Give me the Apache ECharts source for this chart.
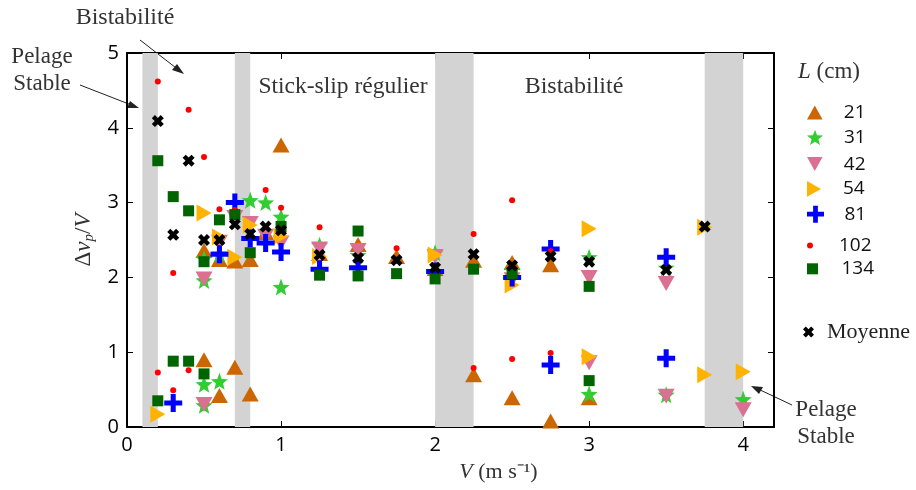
<!DOCTYPE html>
<html><head><meta charset="utf-8">
<script src="https://cdn.jsdelivr.net/npm/echarts@6/dist/echarts.min.js"></script>
<style>html,body{margin:0;padding:0;background:#fff}#c{width:916px;height:490px}</style>
</head><body><div id="c"></div>
<script>
// ---- data ----
const seriesNames = ['21','31','42','54','81','102','134'];
const s21 = [[0.5,2.36],[0.5,0.9],[0.6,2.24],[0.6,0.42],[0.7,2.22],[0.7,0.8],[0.8,2.24],[0.8,0.44],[0.9,2.6],[1.0,3.77],[1.25,2.32],[1.5,2.44],[1.75,2.28],[2.0,2.12],[2.25,2.23],[2.25,0.7],[2.5,2.2],[2.5,0.39],[2.75,2.17],[2.75,0.08],[3.0,0.39]];
const s31 = [[0.5,2.25],[0.5,1.96],[0.5,0.57],[0.5,0.29],[0.6,2.32],[0.6,0.61],[0.8,3.03],[0.9,3.0],[1.0,2.81],[1.0,1.87],[1.25,2.43],[1.5,2.3],[2.0,2.33],[2.5,2.1],[3.0,2.27],[3.0,0.44],[3.5,2.13],[3.5,0.43],[4.0,0.37]];
const s42 = [[0.5,1.98],[0.5,0.3],[0.6,2.47],[0.7,2.8],[0.8,2.72],[0.9,2.55],[1.0,2.46],[1.25,2.38],[1.5,2.36],[2.0,2.28],[2.5,1.97],[3.0,2.0],[3.0,0.86],[3.5,1.92],[3.5,0.41],[4.0,0.23]];
const s54 = [[0.2,0.17],[0.5,2.86],[0.6,2.54],[0.7,2.27],[0.8,2.7],[1.0,2.55],[1.25,2.28],[2.0,2.3],[2.5,1.9],[3.0,2.65],[3.0,0.94],[3.75,2.67],[3.75,0.7],[4.0,0.74]];
const s81 = [[0.3,0.32],[0.6,2.31],[0.7,3.0],[0.8,2.52],[0.9,2.46],[1.0,2.34],[1.25,2.11],[1.5,2.13],[2.0,2.08],[2.5,2.0],[2.75,2.38],[2.75,0.83],[3.5,2.27],[3.5,0.92]];
const s102 = [[0.2,4.62],[0.2,0.73],[0.3,2.06],[0.3,0.49],[0.4,4.24],[0.4,0.76],[0.5,3.61],[0.6,2.91],[0.7,2.9],[0.9,3.17],[1.0,2.93],[1.25,2.67],[1.75,2.39],[2.25,2.58],[2.25,0.79],[2.5,3.03],[2.5,0.91],[2.75,2.35],[2.75,0.99]];
const s134 = [[0.2,3.56],[0.2,0.35],[0.3,3.08],[0.3,0.88],[0.4,2.89],[0.4,0.88],[0.5,2.21],[0.5,0.71],[0.6,2.77],[0.7,2.84],[0.8,2.33],[1.0,2.68],[1.25,2.03],[1.5,2.62],[1.5,2.02],[1.75,2.05],[2.0,1.98],[2.25,2.11],[2.5,2.05],[3.0,1.88],[3.0,0.62]];
const moyenne = [[0.2,4.09],[0.3,2.57],[0.4,3.56],[0.5,2.5],[0.6,2.5],[0.7,2.71],[0.8,2.58],[0.9,2.68],[1.0,2.63],[1.25,2.3],[1.5,2.26],[1.75,2.23],[2.0,2.13],[2.25,2.31],[2.5,2.16],[2.75,2.28],[3.0,2.21],[3.5,2.1],[3.75,2.68]];
const bands = [[0.1,0.2],[0.7,0.8],[2.0,2.25],[3.75,4.0]];
const xTicks = [0,1,2,3,4];
const yTicks = [0,1,2,3,4,5];

// ---- symbols ----
function starPath(){
  let p=[];
  for(let k=0;k<10;k++){
    const a=(-90+36*k)*Math.PI/180, r=(k%2===0)?50:21;
    p.push((50+r*Math.cos(a)).toFixed(2)+' '+(50+r*Math.sin(a)).toFixed(2));
  }
  return 'path://M'+p.join(' L')+' Z';
}
const SYM = {
  up:'path://M5 0L10 9L0 9Z',
  star:starPath(),
  down:'path://M0 0L10 0L5 9Z',
  right:'path://M0 0L9 5L0 10Z',
  plus:'path://M3.6 0H6.4V3.6H10V6.4H6.4V10H3.6V6.4H0V3.6H3.6Z',
  x:'path://M0 2.6L2.6 0L5 2.4L7.4 0L10 2.6L7.6 5L10 7.4L7.4 10L5 7.6L2.6 10L0 7.4L2.4 5Z',
  circle:'circle', square:'rect'
};
const datas = [s21,s31,s42,s54,s81,s102,s134];
const styles = [
  {sym:SYM.up,size:[17,15],color:'#CC6600',leg:[16,14]},
  {sym:SYM.star,size:17,color:'#33CC33',leg:[16,16]},
  {sym:SYM.down,size:[17,15],color:'#DB7093',leg:[16,14]},
  {sym:SYM.right,size:[15,17],color:'#FFB300',leg:[14,16]},
  {sym:SYM.plus,size:18,color:'#0000FF',leg:[17,17]},
  {sym:SYM.circle,size:6,color:'#FF0000',leg:[6,6]},
  {sym:SYM.square,size:11,color:'#006400',leg:[11,11]}
];

const series = datas.map((d,i)=>({
  name:seriesNames[i], type:'scatter', data:d,
  symbol:styles[i].sym, symbolSize:styles[i].size,
  itemStyle:{color:styles[i].color, opacity:1},
  z:3+i
}));
series.push({name:'Moyenne', type:'scatter', data:moyenne, symbol:SYM.x, symbolSize:12,
  itemStyle:{color:'#000', opacity:1}, z:20});
series.unshift({type:'scatter', data:[], silent:true, z:1,
  markArea:{silent:true, itemStyle:{color:'#D3D3D3'},
    data:bands.map(b=>[{xAxis:b[0],yAxis:0},{xAxis:b[1],yAxis:5}])}});

const legendTop = 98, legendStep = 25.8;
const legends = seriesNames.map((n,i)=>({
  data:[n], left:802, top:legendTop+i*legendStep - styles[i].leg[1]/2 + 7,
  itemWidth:styles[i].leg[0], itemHeight:styles[i].leg[1], itemGap:0,
  selectedMode:false,
  textStyle:{fontFamily:'Open Sans', fontSize:19, color:'#111', padding:[0,0,0,24-styles[i].leg[0]/2]}
}));
legends.push({data:['Moyenne'], left:798, top:316, itemWidth:11, itemHeight:11, selectedMode:false,
  textStyle:{fontFamily:'Liberation Serif', fontSize:22, color:'#222', padding:[0,0,0,8]}});

const chart = echarts.init(document.getElementById('c'));
const axisCommon = {
  axisLine:{show:true, onZero:false, lineStyle:{color:'#000', width:2}},
  axisTick:{show:true, inside:true, length:6, lineStyle:{color:'#000', width:1}},
  splitLine:{show:false}
};
const serif = '"Liberation Serif"';
chart.setOption({
  backgroundColor:'#fff',
  animation:false,
  grid:{left:127, right:142, top:53, bottom:63},
  xAxis:[
    Object.assign({type:'value', min:0, max:4.2, interval:1, position:'bottom',
      name:'{i|V} (m s⁻¹)', nameLocation:'middle', nameGap:34,
      nameTextStyle:{fontFamily:'Liberation Serif', fontSize:22, color:'#333', padding:[0,0,0,96],
        rich:{i:{fontFamily:'Liberation Serif', fontStyle:'italic', fontSize:22, color:'#333'}}},
      axisLabel:{fontFamily:'Open Sans', fontSize:20, color:'#000', margin:8,
        formatter:v=>xTicks.includes(v)?String(v):''}}, axisCommon),
    Object.assign({type:'value', min:0, max:4.2, interval:1, position:'top',
      axisLabel:{show:false}}, axisCommon)
  ],
  yAxis:[
    Object.assign({type:'value', min:0, max:5, interval:1, position:'left',
      name:'Δ{i|v}{sub|p}/{i|V}', nameLocation:'middle', nameGap:24, nameRotate:90,
      nameTextStyle:{fontFamily:'Liberation Serif', fontSize:23, color:'#333',
        rich:{i:{fontFamily:'Liberation Serif', fontStyle:'italic', fontSize:23, color:'#333'},
              sub:{fontFamily:'Liberation Serif', fontStyle:'italic', fontSize:15, color:'#333', padding:[10,0,0,0]}}},
      axisLabel:{fontFamily:'Open Sans', fontSize:20, color:'#000', margin:8,
        formatter:v=>yTicks.includes(v)?String(v):''}}, axisCommon),
    Object.assign({type:'value', min:0, max:5, interval:1, position:'right',
      axisLabel:{show:false}}, axisCommon)
  ],
  legend:legends,
  series:series,
  graphic:[
    {type:'text', x:125, y:18, style:{text:'Bistabilité', font:'24px '+serif, fill:'#333', align:'center', verticalAlign:'middle'}},
    {type:'text', x:42, y:70, style:{text:'Pelage\nStable', font:'23px '+serif, fill:'#333', align:'center', verticalAlign:'middle', lineHeight:27}},
    {type:'text', x:343, y:87, style:{text:'Stick-slip régulier', font:'23.5px '+serif, fill:'#333', align:'center', verticalAlign:'middle'}},
    {type:'text', x:574, y:87, style:{text:'Bistabilité', font:'24px '+serif, fill:'#333', align:'center', verticalAlign:'middle'}},
    {type:'text', x:826, y:423, style:{text:'Pelage\nStable', font:'23px '+serif, fill:'#333', align:'center', verticalAlign:'middle', lineHeight:27}},
    {type:'text', x:829, y:72, style:{text:'{i|L} (cm)', rich:{i:{font:'italic 23px '+serif, fill:'#333'}}, font:'23px '+serif, fill:'#333', align:'center', verticalAlign:'middle'}},
    // arrows
    {type:'line', shape:{x1:140,y1:40,x2:180,y2:71}, style:{stroke:'#222', lineWidth:1}},
    {type:'polygon', shape:{points:[[184,74],[172,70],[177,64]]}, style:{fill:'#222'}},
    {type:'line', shape:{x1:80,y1:85,x2:134,y2:106}, style:{stroke:'#222', lineWidth:1}},
    {type:'polygon', shape:{points:[[139,108],[127,108],[130,101]]}, style:{fill:'#222'}},
    {type:'line', shape:{x1:792,y1:405,x2:756,y2:388}, style:{stroke:'#222', lineWidth:1}},
    {type:'polygon', shape:{points:[[751,386],[763,387],[759,394]]}, style:{fill:'#222'}}
  ]
});
</script></body></html>
